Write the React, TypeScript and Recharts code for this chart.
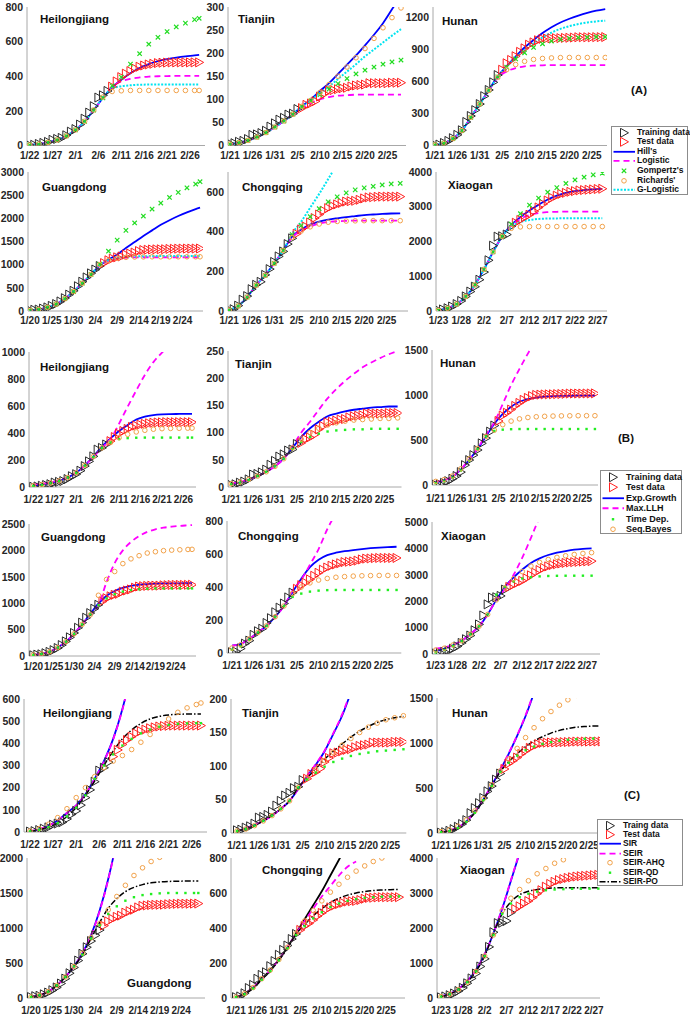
import React from 'react';
import { LineChart, Line, XAxis, YAxis } from 'recharts';

const FONT = '"Liberation Sans", Arial, Helvetica, sans-serif';

// ---------- tick labels ----------
const XTICK_DAYS = [0, 5, 10, 15, 20, 25, 30, 35];
const LBL_0122 = ['1/22', '1/27', '2/1', '2/6', '2/11', '2/16', '2/21', '2/26'];
const LBL_0121 = ['1/21', '1/26', '1/31', '2/5', '2/10', '2/15', '2/20', '2/25'];
const LBL_0120 = ['1/20', '1/25', '1/30', '2/4', '2/9', '2/14', '2/19', '2/24'];
const LBL_0123 = ['1/23', '1/28', '2/2', '2/7', '2/12', '2/17', '2/22', '2/27'];

const YT_800 = [0, 200, 400, 600, 800];
const YT_300 = [0, 50, 100, 150, 200, 250, 300];
const YT_1200 = [0, 300, 600, 900, 1200];
const YT_3000 = [0, 500, 1000, 1500, 2000, 2500, 3000];
const YT_600b = [0, 200, 400, 600];
const YT_4000 = [0, 1000, 2000, 3000, 4000];
const YT_1000 = [0, 200, 400, 600, 800, 1000];
const YT_250 = [0, 50, 100, 150, 200, 250];
const YT_1500 = [0, 500, 1000, 1500];
const YT_2500 = [0, 500, 1000, 1500, 2000, 2500];
const YT_800b = [0, 200, 400, 600, 800];
const YT_5000 = [0, 1000, 2000, 3000, 4000, 5000];
const YT_600 = [0, 100, 200, 300, 400, 500, 600];
const YT_200 = [0, 50, 100, 150, 200];
const YT_2000 = [0, 500, 1000, 1500, 2000];

// ---------- observed cumulative cases (daily) ----------
const OBS_HEI = [2,4,9,15,21,33,38,44,59,80,95,121,155,190,227,277,290,315,340,370,395,415,430,445,455,462,468,472,476,478,479,480,480,480,480,480,480,480];
const OBS_TIA = [4,5,8,10,14,23,24,27,32,41,48,56,60,67,69,79,81,88,91,96,106,112,119,120,122,124,125,128,130,131,132,135,135,135,135,135,136,136,136];
const OBS_HUN = [4,9,24,43,69,100,143,221,277,332,389,463,521,593,661,711,772,803,838,879,912,946,968,988,1001,1004,1006,1007,1008,1010,1011,1013,1016,1016,1016,1016,1017,1017,1018];
const OBS_GUA = [14,26,32,53,78,111,151,207,277,354,436,535,632,725,813,895,970,1034,1095,1131,1159,1177,1219,1241,1261,1294,1316,1322,1328,1331,1332,1333,1339,1342,1345,1347,1347,1347,1348,1349];
const OBS_CHO = [5,9,27,57,75,110,132,147,182,211,247,275,300,337,366,389,411,426,446,468,486,505,518,529,537,544,551,553,555,560,567,572,573,575,576,576,576,576,576];
const OBS_XIA = [20,45,80,130,200,290,420,560,700,900,1120,1460,1880,2140,2150,2200,2440,2540,2620,2700,2770,2870,2980,3080,3180,3260,3320,3370,3400,3430,3450,3470,3480,3490,3500,3510,3518];

// ---------- (A) growth models, every 2 days (last entry = last day) ----------
const A_HEI_HILL = [3,8,18,32,55,90,140,205,275,335,380,418,448,470,487,499,508,515,520,523];
const A_HEI_LOG = [3,8,18,32,55,90,140,205,275,340,370,385,393,398,400,401,402,402,402,402];
const A_HEI_GOM = [3,8,18,32,55,90,140,205,275,345,395,470,530,585,625,658,685,707,727,735];
const A_HEI_RIC = [3,8,18,32,55,90,140,205,280,312,316,318,318,318,318,318,318,318,318,318];
const A_HEI_GLG = [3,8,18,32,55,90,140,205,278,330,342,348,351,352,353,353,353,353,353,353];

const A_TIA_HILL = [3,6,11,18,28,40,53,68,85,100,118,135,155,175,195,217,240,265,295,325];
const A_TIA_LOG = [3,6,11,18,28,40,53,67,80,92,100,105,108,109,110,110,110,110,110,110];
const A_TIA_GOM = [3,6,11,18,28,40,53,68,84,97,110,122,134,145,155,163,170,176,181,185];
const A_TIA_RIC = [3,6,11,18,28,40,53,68,85,98,115,132,150,170,190,210,232,255,277,298];
const A_TIA_GLG = [3,6,11,18,28,40,53,68,85,98,114,128,144,160,176,193,208,223,238,252];

const A_HUN_HILL = [5,22,65,140,265,390,520,650,745,835,920,990,1055,1110,1155,1190,1220,1245,1265,1280];
const A_HUN_LOG = [5,22,65,140,265,390,515,635,695,727,743,750,753,754,755,755,755,755,755,755];
const A_HUN_GOM = [5,22,65,140,265,390,520,645,735,812,870,920,955,980,995,1005,1012,1016,1019,1020];
const A_HUN_RIC = [5,22,65,140,265,390,518,640,712,760,790,808,817,822,825,826,826,826,826,826];
const A_HUN_GLG = [5,22,65,140,265,390,520,648,740,822,895,960,1015,1060,1095,1120,1140,1155,1165,1172];

const A_GUA_HILL = [15,35,80,150,265,420,600,790,980,1110,1220,1360,1490,1620,1740,1860,1960,2050,2130,2200,2230];
const A_GUA_LOG = [15,35,80,150,265,420,600,790,990,1085,1130,1150,1158,1160,1160,1160,1160,1160,1160,1160,1160];
const A_GUA_GOM = [15,35,80,150,265,420,600,790,1010,1290,1530,1740,1900,2050,2200,2330,2450,2560,2660,2740,2790];
const A_GUA_RIC = [15,35,80,150,265,420,600,790,1000,1090,1140,1158,1165,1168,1170,1170,1170,1170,1170,1170,1170];
const A_GUA_GLG = [15,35,80,150,265,420,600,790,1000,1095,1145,1168,1178,1183,1185,1186,1186,1186,1186,1186,1186];

const A_CHO_HILL = [5,25,70,130,180,240,305,375,410,435,450,460,467,473,478,483,486,489,491,492];
const A_CHO_LOG = [5,25,70,130,180,240,305,370,405,425,440,448,452,454,455,455,455,455,455,455];
const A_CHO_GOM = [5,25,70,130,180,240,305,385,430,475,515,550,575,595,610,620,628,635,640,643];
const A_CHO_RIC = [5,25,70,130,180,240,305,370,403,424,438,447,451,453,454,455,455,455,455,455];
const A_CHO_GLG = [5,25,70,130,180,240,305,390,450,520,590,665,740,815,890,965,1040,1115,1190,1265];

const A_XIA_HILL = [20,80,200,420,750,1200,1700,2150,2480,2700,2890,3060,3210,3320,3400,3450,3480,3500,3515];
const A_XIA_LOG = [20,80,200,420,750,1200,1700,2150,2450,2650,2760,2820,2845,2855,2858,2860,2860,2860,2860];
const A_XIA_GOM = [20,80,200,420,750,1200,1700,2150,2500,2800,3050,3250,3420,3550,3670,3770,3850,3920,3965];
const A_XIA_RIC = [20,80,200,420,750,1200,1700,2150,2380,2420,2428,2430,2430,2430,2430,2430,2430,2430,2430];
const A_XIA_GLG = [20,80,200,420,750,1200,1700,2150,2420,2560,2620,2650,2660,2665,2668,2670,2670,2670,2670];

// ---------- (B) estimation methods ----------
const B_HEI_EXP = [10,18,30,45,70,105,160,225,300,360,415,460,500,522,533,538,540,541,542,542];
const B_HEI_MLL = [20,25,35,50,72,105,158,222,290,355,470,595,715,830,925,995,1060,1120,1170,1195];
const B_HEI_TD = [8,15,28,44,70,103,158,222,290,330,355,362,365,366,366,366,366,366,366,366];
const B_HEI_SB = [10,18,30,45,70,105,160,225,290,330,365,390,408,420,428,432,434,435,436,436];

const B_TIA_EXP = [5,8,13,20,28,38,52,72,92,108,120,130,135,139,142,144,146,147,148,148];
const B_TIA_MLL = [7,9,14,20,28,38,52,75,100,120,142,163,180,195,208,220,229,237,244,250];
const B_TIA_TD = [5,8,13,20,28,38,52,70,83,92,98,102,104,105,106,106,107,107,107,107];
const B_TIA_SB = [6,9,14,20,28,38,52,72,88,100,108,114,118,121,123,124,125,126,126,127];

const B_HUN_EXP = [30,50,90,170,280,400,540,680,790,870,925,955,972,982,988,990,991,992,992,992];
const B_HUN_MLL = [37,55,95,175,285,405,560,700,900,1110,1290,1460,1620,1780,1930,2080,2230,2380,2530,2680];
const B_HUN_TD = [20,40,80,160,270,400,540,600,615,620,622,622,622,622,622,622,622,622,622,622];
const B_HUN_SB = [40,60,100,180,290,405,540,610,670,710,735,750,758,763,766,768,769,770,770,770];

const B_GUA_EXP = [20,40,80,160,270,420,600,800,990,1140,1230,1290,1330,1350,1362,1370,1374,1376,1377,1378,1378];
const B_GUA_MLL = [20,40,80,160,270,420,600,780,960,1400,1760,2000,2160,2270,2350,2400,2430,2450,2465,2475,2480];
const B_GUA_TD = [20,40,80,160,270,420,600,790,960,1090,1170,1220,1250,1265,1275,1280,1280,1280,1280,1280,1280];
const B_GUA_SB = [20,40,80,160,270,420,600,780,1150,1450,1600,1750,1840,1900,1950,1975,1995,2005,2012,2018,2020];

const B_CHO_EXP = [45,55,85,125,165,220,285,370,450,520,565,593,608,617,624,630,635,639,642,644];
const B_CHO_MLL = [45,55,85,125,165,220,285,380,445,535,630,750,850,960,1080,1200,1320,1440,1560,1680];
const B_CHO_TD = [20,40,80,125,165,220,285,340,360,372,378,381,382,382,382,382,382,382,382,382];
const B_CHO_SB = [30,50,85,125,165,220,285,360,400,425,442,452,459,463,466,468,469,470,470,470];

const B_XIA_EXP = [100,200,330,500,750,1050,1500,2050,2550,2900,3200,3450,3620,3750,3840,3900,3950,3980,4000];
const B_XIA_MLL = [200,250,350,500,750,1050,1500,2050,2450,3000,3650,4400,5200,6000,6800,7600,8400,9200,10000];
const B_XIA_TD = [60,150,300,480,740,1050,1500,2250,2550,2750,2860,2910,2940,2955,2962,2965,2966,2967,2967];
const B_XIA_SB = [150,220,340,500,750,1050,1500,2050,2500,2850,3120,3330,3470,3580,3660,3720,3770,3810,3840];

// ---------- (C) compartment models ----------
const C_HEI_SIR = [3,12,28,52,86,120,170,240,320,420,555,730,950,1200,1500,1850,2250,2700,3200,3500];
const C_HEI_SEIR = [3,12,28,52,86,120,170,238,318,418,552,725,940,1190,1480,1830,2220,2670,3150,3450];
const C_HEI_AHQ = [5,15,35,65,105,155,200,250,290,320,345,372,405,440,478,510,540,560,575,582];
const C_HEI_QD = [3,10,22,40,70,110,165,240,300,350,390,420,445,462,475,483,488,490,491,491];
const C_HEI_PO = [3,10,22,40,70,110,165,230,300,365,420,460,490,510,522,528,531,532,532,532];

const C_TIA_SIR = [3,7,12,18,26,36,48,66,85,102,122,148,175,210,250,300,360,430,510,600];
const C_TIA_SEIR = [3,7,12,18,26,36,48,66,85,103,123,149,177,212,252,302,362,432,512,602];
const C_TIA_AHQ = [3,6,11,18,26,36,48,68,82,95,108,120,131,141,150,158,164,169,172,175];
const C_TIA_QD = [3,6,11,18,26,36,48,68,80,90,99,106,111,115,118,120,122,123,124,125];
const C_TIA_PO = [3,6,11,18,26,36,48,68,82,96,110,122,133,143,152,159,165,169,172,174];

const C_HUN_SIR = [10,25,60,130,230,370,530,700,880,1080,1300,1560,1850,2150,2500,2850,3200,3550,3900,4250];
const C_HUN_SEIR = [12,27,62,132,232,372,532,703,885,1085,1310,1570,1860,2170,2520,2870,3220,3570,3920,4270];
const C_HUN_AHQ = [15,35,75,145,245,380,535,690,820,940,1060,1170,1270,1350,1420,1480,1530,1580,1620,1650];
const C_HUN_QD = [8,22,55,125,225,365,525,680,780,860,920,960,990,1010,1025,1035,1042,1047,1050,1052];
const C_HUN_PO = [8,22,55,125,225,365,525,680,790,880,960,1020,1070,1110,1140,1160,1175,1183,1188,1190];

const C_GUA_SIR = [15,40,90,180,300,450,640,900,1250,1700,2250,2900,3600,4400,5300,6200,7100,8000,8900,9800,10200];
const C_GUA_SEIR = [15,40,90,180,300,450,640,895,1240,1690,2240,2880,3580,4380,5280,6180,7080,7980,8880,9780,10180];
const C_GUA_AHQ = [15,40,90,180,300,450,640,860,1060,1260,1450,1610,1750,1860,1950,2010];
const C_GUA_QD = [15,40,90,180,300,450,620,850,1040,1200,1310,1390,1440,1470,1485,1495,1500,1500,1500,1500,1500];
const C_GUA_PO = [15,40,90,180,300,450,620,850,1080,1280,1420,1520,1580,1620,1645,1658,1665,1668,1670,1670,1670];

const C_CHO_SIR = [5,25,60,110,160,220,290,370,450,530,610,700,790,880,970,1060,1150,1240,1330,1420];
const C_CHO_SEIR = [5,25,60,110,160,220,290,368,440,510,580,640,700,750,780];
const C_CHO_AHQ = [5,25,60,110,160,220,290,370,440,500,555,605,650,690,725,755,780,800];
const C_CHO_QD = [5,22,55,105,155,215,285,360,410,455,490,520,540,555,565,572,576,579,580,581];
const C_CHO_PO = [5,22,55,105,155,215,285,365,420,470,510,545,570,588,600,608,614,617,619,620];

const C_XIA_SIR = [50,120,260,480,800,1250,1850,2550,3350,4150,5000,5900,6800,7700,8600,9500,10400,11300,12200];
const C_XIA_SEIR = [50,120,260,480,800,1250,1850,2560,3370,4180,5030,5930,6830,7730,8630,9530,10430,11330,12230];
const C_XIA_AHQ = [40,110,240,450,760,1200,1800,2500,2850,3100,3350,3550,3700,3850,3950];
const C_XIA_QD = [40,110,240,450,760,1200,1800,2400,2700,2880,2980,3040,3080,3100,3110,3120,3122,3124,3125];
const C_XIA_PO = [40,110,240,450,760,1200,1850,2400,2750,2950,3050,3100,3130,3145,3150,3150,3150,3150,3150];

// ---------- styles ----------
const S_BLUE = { kind: 'line', color: '#0000ff', width: 1.8 };
const S_MAG = { kind: 'line', color: '#ff00ff', width: 1.8, dash: '6 4' };
const S_CYAN = { kind: 'line', color: '#00e4f0', width: 2, dash: '2 1.5' };
const S_PO = { kind: 'line', color: '#000000', width: 1.5, dash: '6 2 1.5 2' };
const S_BLACK = { kind: 'line', color: '#000000', width: 1.8 };
const S_GX = { kind: 'x', color: '#22dd22' };
const S_OO = { kind: 'o', color: '#f2a24a' };
const S_GD = { kind: 'dot', color: '#22ee22' };

const STY_A = [S_BLUE, S_MAG, S_GX, S_OO, S_CYAN];
const STY_B = [S_BLUE, S_MAG, S_GD, S_OO];
const STY_C = [S_BLUE, S_MAG, S_OO, S_GD, S_PO];
const STY_C_CHO = [S_BLACK, S_MAG, S_OO, S_GD, S_PO];

const TRAIN_COLOR = '#2b2b2b';
const TEST_COLOR = '#ff2020';

function markerShape(kind: string, color: string, cx: number, cy: number) {
  if (kind === 'tri') {
    return <polygon points={`${cx - 3.5},${cy - 4.5} ${cx + 4.5},${cy} ${cx - 3.5},${cy + 4.5}`} fill="none" stroke={color} strokeWidth={1} />;
  }
  if (kind === 'x') {
    const r = 2.2;
    return <path d={`M${cx - r},${cy - r}L${cx + r},${cy + r}M${cx - r},${cy + r}L${cx + r},${cy - r}`} stroke={color} strokeWidth={1.2} fill="none" />;
  }
  if (kind === 'o') {
    return <circle cx={cx} cy={cy} r={2.3} fill="none" stroke={color} strokeWidth={1} />;
  }
  return <rect x={cx - 1.2} y={cy - 1.2} width={2.4} height={2.4} fill={color} />;
}

const makeDot = (kind: string, color: string) => (p: any) => {
  const { cx, cy, index, value } = p;
  const k = `${kind}-${color}-${index}`;
  if (cx == null || cy == null || value == null || Number.isNaN(cy)) return <g key={k} />;
  return <g key={k}>{markerShape(kind, color, cx, cy)}</g>;
};

function buildRows(obs: number[], te: number, models: number[][]) {
  const N = obs.length - 1;
  const rows: any[] = [];
  for (let d = 0; d <= N; d++) {
    rows.push({ d, train: d <= te ? obs[d] : null, test: d > te ? obs[d] : null });
  }
  models.forEach((arr, k) => {
    arr.forEach((v, i) => {
      const day = Math.min(2 * i, N);
      rows[day]['m' + k] = v;
    });
  });
  return rows;
}

const PANELS: any[] = [
  // (A)
  { title: 'Heilongjiang', tx: 40, ty: 19, g: { axisX: 27, right: 205, top: 7, bottom: 145.5, x0: 29.7, ppd: 4.58, tm: 3 }, ymax: 800, yt: YT_800, lb: LBL_0122, obs: OBS_HEI, te: 17, models: [A_HEI_HILL, A_HEI_LOG, A_HEI_GOM, A_HEI_RIC, A_HEI_GLG], sty: STY_A },
  { title: 'Tianjin', tx: 238, ty: 19, g: { axisX: 228, right: 406, top: 7, bottom: 145.5, x0: 230, ppd: 4.5, tm: 3 }, ymax: 300, yt: YT_300, lb: LBL_0121, obs: OBS_TIA, te: 15, models: [A_TIA_HILL, A_TIA_LOG, A_TIA_GOM, A_TIA_RIC, A_TIA_GLG], sty: STY_A },
  { title: 'Hunan', tx: 442, ty: 21, g: { axisX: 433, right: 607, top: 7, bottom: 145.5, x0: 435, ppd: 4.48, tm: 3 }, ymax: 1300, yt: YT_1200, lb: LBL_0121, obs: OBS_HUN, te: 14, models: [A_HUN_HILL, A_HUN_LOG, A_HUN_GOM, A_HUN_RIC, A_HUN_GLG], sty: STY_A },
  { title: 'Guangdong', tx: 42, ty: 187, g: { axisX: 28, right: 203, top: 172, bottom: 311, x0: 30, ppd: 4.36, tm: 3 }, ymax: 3000, yt: YT_3000, lb: LBL_0120, obs: OBS_GUA, te: 16, models: [A_GUA_HILL, A_GUA_LOG, A_GUA_GOM, A_GUA_RIC, A_GUA_GLG], sty: STY_A },
  { title: 'Chongqing', tx: 242, ty: 187, g: { axisX: 228, right: 408, top: 172, bottom: 311, x0: 229.2, ppd: 4.5, tm: 3 }, ymax: 700, yt: YT_600b, lb: LBL_0121, obs: OBS_CHO, te: 14, models: [A_CHO_HILL, A_CHO_LOG, A_CHO_GOM, A_CHO_RIC, A_CHO_GLG], sty: STY_A },
  { title: 'Xiaogan', tx: 448, ty: 185, g: { axisX: 436, right: 607, top: 172, bottom: 311, x0: 438.5, ppd: 4.55, tm: 3 }, ymax: 4000, yt: YT_4000, lb: LBL_0123, obs: OBS_XIA, te: 16, models: [A_XIA_HILL, A_XIA_LOG, A_XIA_GOM, A_XIA_RIC, A_XIA_GLG], sty: STY_A },
  // (B)
  { title: 'Heilongjiang', tx: 40, ty: 367, g: { axisX: 29, right: 196, top: 352, bottom: 487, x0: 33.3, ppd: 4.29, tm: 6 }, ymax: 1000, yt: YT_1000, lb: LBL_0122, obs: OBS_HEI, te: 17, models: [B_HEI_EXP, B_HEI_MLL, B_HEI_TD, B_HEI_SB], sty: STY_B },
  { title: 'Tianjin', tx: 235, ty: 364, g: { axisX: 227.5, right: 401, top: 351, bottom: 487, x0: 230.7, ppd: 4.38, tm: 6 }, ymax: 250, yt: YT_250, lb: LBL_0121, obs: OBS_TIA, te: 15, models: [B_TIA_EXP, B_TIA_MLL, B_TIA_TD, B_TIA_SB], sty: STY_B },
  { title: 'Hunan', tx: 440, ty: 363, g: { axisX: 432, right: 598, top: 350, bottom: 485, x0: 435.7, ppd: 4.19, tm: 7 }, ymax: 1500, yt: YT_1500, lb: LBL_0121, obs: OBS_HUN, te: 14, models: [B_HUN_EXP, B_HUN_MLL, B_HUN_TD, B_HUN_SB], sty: STY_B },
  { title: 'Guangdong', tx: 41, ty: 537, g: { axisX: 29, right: 196, top: 524, bottom: 656, x0: 33.3, ppd: 4.07, tm: 4 }, ymax: 2500, yt: YT_2500, lb: LBL_0120, obs: OBS_GUA, te: 16, models: [B_GUA_EXP, B_GUA_MLL, B_GUA_TD, B_GUA_SB], sty: STY_B },
  { title: 'Chongqing', tx: 238, ty: 536, g: { axisX: 226.7, right: 401, top: 521, bottom: 653, x0: 231.7, ppd: 4.33, tm: 6 }, ymax: 800, yt: YT_800b, lb: LBL_0121, obs: OBS_CHO, te: 14, models: [B_CHO_EXP, B_CHO_MLL, B_CHO_TD, B_CHO_SB], sty: STY_B },
  { title: 'Xiaogan', tx: 441, ty: 536, g: { axisX: 432, right: 600, top: 522, bottom: 654, x0: 435.7, ppd: 4.33, tm: 5 }, ymax: 5000, yt: YT_5000, lb: LBL_0123, obs: OBS_XIA, te: 16, models: [B_XIA_EXP, B_XIA_MLL, B_XIA_TD, B_XIA_SB], sty: STY_B },
  // (C)
  { title: 'Heilongjiang', tx: 43, ty: 713, g: { axisX: 24, right: 207, top: 699, bottom: 832, x0: 30, ppd: 4.62, tm: 6 }, ymax: 600, yt: YT_600, lb: LBL_0122, obs: OBS_HEI, te: 17, models: [C_HEI_SIR, C_HEI_SEIR, C_HEI_AHQ, C_HEI_QD, C_HEI_PO], sty: STY_C },
  { title: 'Tianjin', tx: 242, ty: 713, g: { axisX: 230.7, right: 406, top: 699, bottom: 833, x0: 236.7, ppd: 4.38, tm: 6 }, ymax: 200, yt: YT_200, lb: LBL_0121, obs: OBS_TIA, te: 15, models: [C_TIA_SIR, C_TIA_SEIR, C_TIA_AHQ, C_TIA_QD, C_TIA_PO], sty: STY_C },
  { title: 'Hunan', tx: 452, ty: 713, g: { axisX: 437, right: 600, top: 698, bottom: 833, x0: 441, ppd: 4.23, tm: 6 }, ymax: 1500, yt: YT_1500, lb: LBL_0121, obs: OBS_HUN, te: 14, models: [C_HUN_SIR, C_HUN_SEIR, C_HUN_AHQ, C_HUN_QD, C_HUN_PO], sty: STY_C },
  { title: 'Guangdong', tx: 127, ty: 983, g: { axisX: 27, right: 205, top: 858, bottom: 998, x0: 31, ppd: 4.29, tm: 6 }, ymax: 2000, yt: YT_2000, lb: LBL_0120, obs: OBS_GUA, te: 16, models: [C_GUA_SIR, C_GUA_SEIR, C_GUA_AHQ, C_GUA_QD, C_GUA_PO], sty: STY_C },
  { title: 'Chongqing', tx: 262, ty: 870, g: { axisX: 231, right: 405, top: 858, bottom: 998, x0: 236, ppd: 4.29, tm: 6 }, ymax: 800, yt: YT_800b, lb: LBL_0121, obs: OBS_CHO, te: 14, models: [C_CHO_SIR, C_CHO_SEIR, C_CHO_AHQ, C_CHO_QD, C_CHO_PO], sty: STY_C_CHO },
  { title: 'Xiaogan', tx: 460, ty: 870, g: { axisX: 437, right: 600, top: 858, bottom: 998, x0: 441, ppd: 4.37, tm: 6 }, ymax: 4000, yt: YT_4000, lb: LBL_0123, obs: OBS_XIA, te: 16, models: [C_XIA_SIR, C_XIA_SEIR, C_XIA_AHQ, C_XIA_QD, C_XIA_PO], sty: STY_C },
];

const tickStyleX = { fontSize: 10, fontWeight: 700, fill: '#262626', fontFamily: FONT };
const tickStyleY = { fontSize: 10.5, fontWeight: 700, fill: '#262626', fontFamily: FONT };

function Panel({ p }: { p: any }) {
  const g = p.g;
  const YW = 40, XH = 22, MT = 6, MR = 6;
  const plotW = g.right - g.axisX;
  const plotH = g.bottom - g.top;
  const xmin = (g.axisX - g.x0) / g.ppd;
  const xmax = (g.right - g.x0) / g.ppd;
  const rows = buildRows(p.obs, p.te, p.models);
  return (
    <div style={{ position: 'absolute', left: g.axisX - YW, top: g.top - MT }}>
      <LineChart width={plotW + YW + MR} height={plotH + MT + XH} data={rows} margin={{ top: MT, right: MR, bottom: 0, left: 0 }}>
        <XAxis type="number" dataKey="d" domain={[xmin, xmax]} allowDataOverflow ticks={XTICK_DAYS} interval={0}
          tickFormatter={(v: number) => p.lb[XTICK_DAYS.indexOf(v)] ?? ''} height={XH} tickLine={false} tickSize={3} tickMargin={g.tm}
          axisLine={{ stroke: '#a8a8a8' }} tick={tickStyleX} />
        <YAxis type="number" domain={[0, p.ymax]} allowDataOverflow ticks={p.yt} interval={0} width={YW} tickLine={false}
          tickSize={2} tickMargin={2} axisLine={{ stroke: '#a8a8a8' }} tick={tickStyleY} />
        <Line dataKey="train" stroke="none" dot={makeDot('tri', TRAIN_COLOR)} activeDot={false} isAnimationActive={false} legendType="none" />
        <Line dataKey="test" stroke="none" dot={makeDot('tri', TEST_COLOR)} activeDot={false} isAnimationActive={false} legendType="none" />
        {p.sty.map((s: any, k: number) =>
          s.kind === 'line' ? (
            <Line key={'m' + k} dataKey={'m' + k} type="monotone" stroke={s.color} strokeWidth={s.width} strokeDasharray={s.dash}
              dot={false} activeDot={false} connectNulls isAnimationActive={false} legendType="none" />
          ) : (
            <Line key={'m' + k} dataKey={'m' + k} stroke="none" dot={makeDot(s.kind, s.color)} activeDot={false}
              isAnimationActive={false} legendType="none" />
          )
        )}
      </LineChart>
      <div style={{ position: 'absolute', left: p.tx - (g.axisX - YW), top: p.ty - 7 - (g.top - MT), fontFamily: FONT, fontWeight: 700, fontSize: 11.5, lineHeight: '14px', color: '#111', whiteSpace: 'nowrap' }}>
        {p.title}
      </div>
    </div>
  );
}

const LEG_A = [
  { label: 'Training data', s: { kind: 'tri', color: TRAIN_COLOR } },
  { label: 'Test data', s: { kind: 'tri', color: TEST_COLOR } },
  { label: "Hill's", s: S_BLUE },
  { label: 'Logistic', s: S_MAG },
  { label: "Gompertz's", s: S_GX },
  { label: "Richards'", s: S_OO },
  { label: 'G-Logistic', s: S_CYAN },
];
const LEG_B = [
  { label: 'Training data', s: { kind: 'tri', color: TRAIN_COLOR } },
  { label: 'Test data', s: { kind: 'tri', color: TEST_COLOR } },
  { label: 'Exp.Growth', s: S_BLUE },
  { label: 'Max.LLH', s: S_MAG },
  { label: 'Time Dep.', s: S_GD },
  { label: 'Seq.Bayes', s: S_OO },
];
const LEG_C = [
  { label: 'Traing data', s: { kind: 'tri', color: TRAIN_COLOR } },
  { label: 'Test data', s: { kind: 'tri', color: TEST_COLOR } },
  { label: 'SIR', s: S_BLUE },
  { label: 'SEIR', s: S_MAG },
  { label: 'SEIR-AHQ', s: S_OO },
  { label: 'SEIR-QD', s: S_GD },
  { label: 'SEIR-PO', s: S_PO },
];

function LegendBox({ left, top, width, height, rowH, items, font }: any) {
  const symW = 24;
  return (
    <div style={{ position: 'absolute', left, top, width, height, border: '1px solid #8c8c8c', background: '#fff', boxSizing: 'border-box' }}>
      {items.map((it: any, i: number) => {
        const cy = rowH / 2;
        const s = it.s;
        return (
          <div key={i} style={{ position: 'absolute', left: 0, top: 0.5 + i * rowH, height: rowH, display: 'flex', alignItems: 'center' }}>
            <svg width={symW} height={rowH} style={{ display: 'block' }}>
              {s.kind === 'line' ? (
                <line x1={1.5} x2={symW - 1} y1={cy} y2={cy} stroke={s.color} strokeWidth={s.width} strokeDasharray={s.dash} />
              ) : (
                markerShape(s.kind, s.color, 12, cy)
              )}
            </svg>
            <span style={{ fontFamily: FONT, fontWeight: 700, fontSize: font, color: '#111', marginLeft: 1, whiteSpace: 'nowrap', lineHeight: `${rowH}px` }}>{it.label}</span>
          </div>
        );
      })}
    </div>
  );
}

const groupLabel = (text: string, left: number, cy: number) => (
  <div style={{ position: 'absolute', left, top: cy - 7, fontFamily: FONT, fontWeight: 700, fontSize: 11.5, lineHeight: '14px', color: '#111' }}>{text}</div>
);

export default function App() {
  return (
    <div style={{ position: 'absolute', left: 0, top: 0, width: 690, height: 1019, background: '#fff', overflow: 'hidden' }}>
      {PANELS.map((p, i) => <Panel key={i} p={p} />)}
      {groupLabel('(A)', 631, 90)}
      {groupLabel('(B)', 618, 438)}
      {groupLabel('(C)', 624, 795)}
      <LegendBox left={611} top={126} width={77} height={69} rowH={9.6} items={LEG_A} font={8.5} />
      <LegendBox left={600} top={470} width={82} height={64} rowH={10.5} items={LEG_B} font={9} />
      <LegendBox left={597} top={819} width={86} height={67} rowH={9.4} items={LEG_C} font={8.5} />
    </div>
  );
}
